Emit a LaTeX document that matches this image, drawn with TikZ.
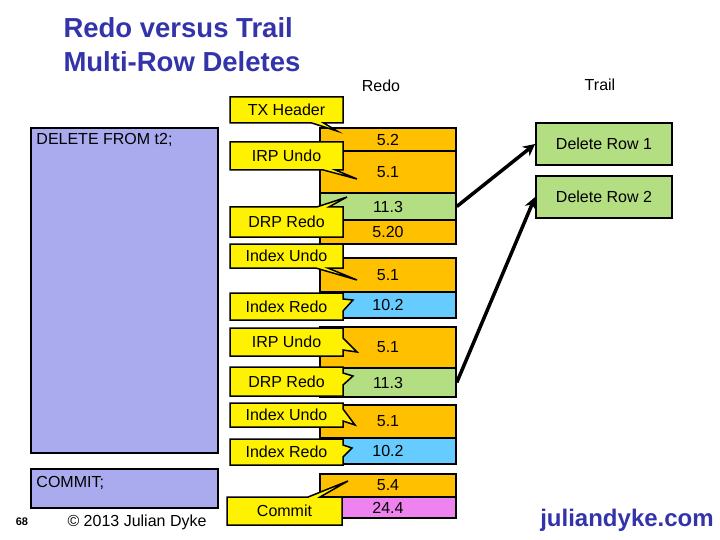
\documentclass[tikz,border=0pt]{standalone}
\usepackage{fontspec}
\setmainfont{Liberation Sans}
\usetikzlibrary{shapes.callouts,arrows.meta}

\definecolor{undoorange}{HTML}{FFC000}
\definecolor{redogreen}{HTML}{B3DE81}
\definecolor{idxblue}{HTML}{66CCFF}
\definecolor{commitpink}{HTML}{EE82EE}
\definecolor{sqlblue}{HTML}{AAAAEE}
\definecolor{titleblue}{HTML}{3333AA}

\tikzset{
  redorow/.style={draw, line width=1.5pt, minimum width=136pt, inner sep=0pt},
  callbox/.style={rectangle callout, draw, fill=yellow, line width=1.5pt,
    minimum width=113pt, inner sep=0pt, callout pointer width=12pt},
  sqlbox/.style={draw, fill=sqlblue, line width=1.5pt, minimum width=187pt, inner sep=0pt},
  trailbox/.style={draw, fill=redogreen, line width=1.8pt, minimum width=136pt,
    minimum height=42pt, inner sep=0pt},
}

\begin{document}
\begin{tikzpicture}[x=1pt, y=-1pt, font=\fontsize{16}{19}\selectfont]
  \useasboundingbox (0,0) rectangle (720,540);
  \node[anchor=west, align=left, text=titleblue,
    font=\bfseries\fontsize{27.5}{34}\selectfont] (title) at (60,45)
    {Redo versus Trail\\Multi-Row Deletes};
  \node (redohead) at (381,86) {Redo};
  \node (trailhead) at (600,85) {Trail};

  \node[sqlbox, minimum height=325pt,
    label={[anchor=north west, inner sep=6pt]north west:DELETE FROM t2;}] (del) at (124.5,290.5) {};
  \node[sqlbox, minimum height=39pt,
    label={[anchor=north west, inner sep=6pt, yshift=-2pt]north west:COMMIT;}] (cmt) at (124.5,488.5) {};

  \node[redorow, fill=undoorange, minimum height=23pt] (r1) at (388,139.5) {5.2};
  \node[redorow, fill=undoorange, minimum height=42pt] (r2) at (388,172) {5.1};
  \node[redorow, fill=redogreen, minimum height=27pt] (r3) at (388,206.5) {11.3};
  \node[redorow, fill=undoorange, minimum height=24pt] (r4) at (388,232) {5.20};
  \node[redorow, fill=undoorange, minimum height=34pt] (r5) at (388,275) {5.1};
  \node[redorow, fill=idxblue, minimum height=26pt] (r6) at (388,305) {10.2};
  \node[redorow, fill=undoorange, minimum height=41pt] (r7) at (388,347.5) {5.1};
  \node[redorow, fill=redogreen, minimum height=29pt] (r8) at (388,382.5) {11.3};
  \node[redorow, fill=undoorange, minimum height=33pt] (r9) at (388,421.5) {5.1};
  \node[redorow, fill=idxblue, minimum height=26pt] (r10) at (388,451) {10.2};
  \node[redorow, fill=undoorange, minimum height=23pt] (r11) at (388,485.5) {5.4};
  \node[redorow, fill=commitpink, minimum height=21pt] (r12) at (388,507.5) {24.4};

  \node[callbox, minimum height=26pt, callout absolute pointer={(337,131)}] (c1) at (286.5,110) {TX Header};
  \node[callbox, minimum height=28pt, callout absolute pointer={(357,179)}] (c2) at (286.5,156) {IRP Undo};
  \node[callbox, minimum height=30pt, callout absolute pointer={(347,197)}] (c3) at (286.5,222) {DRP Redo};
  \node[callbox, minimum height=24pt, callout absolute pointer={(357,280)}] (c4) at (286.5,256) {Index Undo};
  \node[callbox, minimum height=27pt, callout absolute pointer={(353,300)}] (c5) at (286.5,306.5) {Index Redo};
  \node[callbox, minimum height=28pt, callout absolute pointer={(357,352)}] (c6) at (286.5,342) {IRP Undo};
  \node[callbox, minimum height=29pt, callout absolute pointer={(353,376)}] (c7) at (286.5,381.5) {DRP Redo};
  \node[callbox, minimum height=24pt, callout absolute pointer={(355,425)}] (c8) at (286.5,415) {Index Undo};
  \node[callbox, minimum height=26pt, callout absolute pointer={(352,448)}] (c9) at (286.5,452) {Index Redo};
  \node[callbox, minimum height=28pt, minimum width=115pt, callout absolute pointer={(348,481)}] (c10) at (284.5,511) {Commit};

  \node[trailbox] (t1) at (604,144) {Delete Row 1};
  \node[trailbox] (t2) at (604,197) {Delete Row 2};

  \draw[line width=3.5pt, -{Stealth[length=12pt, width=12pt]}] (r3.east) -- (t1.west);
  \draw[line width=3.5pt, -{Stealth[length=12pt, width=12pt]}] (r8.east) -- (t2.west);

  \node[font=\bfseries\fontsize{11}{13}\selectfont] (pg) at (22,522) {68};
  \node (copy) at (137,522) {\char"00A9\ 2013 Julian Dyke};
  \node[text=titleblue, font=\bfseries\fontsize{24}{28}\selectfont] (site) at (627,520) {juliandyke.com};
\end{tikzpicture}
\end{document}
